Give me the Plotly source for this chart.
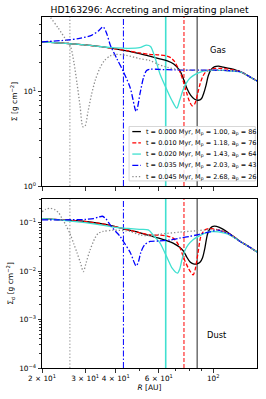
import plotly.graph_objects as go
import math

# ---------------- data ----------------
times = [0.000, 0.010, 0.020, 0.035, 0.045]
masses = [1.00, 1.18, 1.43, 2.03, 2.68]
a_p = [86, 76, 64, 43, 26]

# Gas surface density
r_gas_0 = [20, 25, 30, 35, 40, 45, 50, 55, 60, 65, 69, 73, 76, 78, 81, 84, 87, 89.5, 91.5, 93.5, 95.5, 98, 101, 105, 110, 118, 129, 140, 151]
s_gas_0 = [33, 31.8, 30.6, 29.3, 27.8, 26.3, 24.8, 23.3, 22, 20.8, 19.3, 16.5, 13, 10.8, 9, 8.2, 8.0, 8.3, 9.5, 11.5, 14.5, 16.8, 18, 18.3, 17.9, 17.2, 16, 14.3, 12.8]

r_gas_1 = [20, 25, 30, 35, 40, 45, 50, 55, 60, 64, 67, 69.5, 71.5, 73.5, 76, 78, 80, 82, 84, 86.5, 88.5, 90.5, 93, 97, 102, 108, 115, 129, 140, 151]
s_gas_1 = [33, 31.8, 30.6, 29.3, 27.8, 26.5, 25.2, 24.4, 24, 23.5, 22.5, 20.5, 18, 15.5, 12, 9.5, 7.8, 7.0, 7.3, 9.5, 12, 14.1, 15.8, 16.8, 17.3, 17.3, 17, 16, 14.3, 12.8]

r_gas_2 = [20, 25, 30, 35, 40, 45, 50, 53.5, 55.5, 58, 60.7, 64.5, 67.8, 71, 73, 75.8, 80.5, 90, 100, 110, 120, 129, 140, 151]
s_gas_2 = [33, 31.8, 30.6, 29.3, 28.5, 28.2, 28.6, 30.5, 29.5, 22, 15, 10.5, 8, 6.6, 8, 10.7, 13.7, 16, 16.5, 16.5, 16.2, 15.9, 14.3, 12.8]

r_gas_3 = [20, 25, 28.5, 32, 34, 35.5, 36.8, 38, 40.4, 43, 45.9, 48.5, 50.3, 52, 53.5, 55.3, 60, 70, 80, 90, 100, 110, 120, 129, 140, 151]
s_gas_3 = [33, 34.3, 35.8, 38.9, 43, 47.5, 40, 30.6, 22, 16, 10.7, 6.1, 9.5, 14, 16.5, 17, 16.9, 16.7, 16.6, 16.6, 16.6, 16.5, 16.3, 16, 14.3, 12.8]

r_gas_4 = [20, 21.6, 23.3, 25.2, 26.2, 27, 27.8, 28.6, 29.4, 30, 30.8, 31.8, 33, 34.5, 36, 38, 40, 44, 50, 55, 60, 65, 70, 80, 90, 100, 110, 120, 129, 140, 151]
s_gas_4 = [75, 60, 46, 34, 29, 20, 12, 7, 4.2, 4.3, 6, 9, 13, 17.5, 21, 23.5, 24.3, 23.8, 22, 21, 19, 17.8, 17, 16.6, 16.6, 16.6, 16.5, 16.3, 16, 14.3, 12.8]

# Dust surface density
r_dust_0 = [20, 25, 30, 36.8, 43, 50.3, 55.3, 60, 65, 68.6, 73, 76, 78, 80.5, 83, 86, 88.5, 90.5, 92.5, 94.8, 97.5, 101, 106, 115, 129, 140, 151]
s_dust_0 = [0.121, 0.113, 0.106, 0.091, 0.075, 0.062, 0.054, 0.048, 0.042, 0.038, 0.031, 0.025, 0.0195, 0.0155, 0.0142, 0.0142, 0.0155, 0.019, 0.03, 0.058, 0.078, 0.085, 0.08, 0.063, 0.041, 0.032, 0.025]

r_dust_1 = [20, 25, 30, 36.8, 43, 50.3, 55.3, 60, 65, 68.6, 71, 73.5, 75.8, 79.1, 81, 82.8, 84.5, 86.7, 89.4, 93, 97.3, 101, 106, 115, 129, 140, 151]
s_dust_1 = [0.121, 0.113, 0.106, 0.091, 0.075, 0.062, 0.056, 0.0555, 0.053, 0.048, 0.04, 0.029, 0.0188, 0.0116, 0.0095, 0.0084, 0.011, 0.0237, 0.0557, 0.072, 0.0766, 0.074, 0.07, 0.061, 0.041, 0.032, 0.025]

r_dust_2 = [20, 25, 30, 36.8, 40, 45, 50, 54.3, 57.9, 60.7, 63, 65.5, 68, 71.5, 73, 74.5, 76.5, 79, 83, 86.7, 92, 97.3, 105, 115, 129, 140, 151]
s_dust_2 = [0.121, 0.111, 0.1, 0.086, 0.08, 0.076, 0.073, 0.071, 0.05, 0.038, 0.026, 0.017, 0.0115, 0.0091, 0.011, 0.017, 0.026, 0.0347, 0.045, 0.0515, 0.06, 0.0652, 0.065, 0.058, 0.041, 0.032, 0.025]

r_dust_3 = [20, 25, 30, 32.5, 34, 35.3, 36.5, 37.9, 40, 41.7, 43, 45.9, 48.5, 49.6, 50.6, 52.5, 55.3, 60, 66.7, 73, 80, 87, 97, 104, 115, 129, 140, 151]
s_dust_3 = [0.115, 0.115, 0.117, 0.122, 0.13, 0.136, 0.12, 0.091, 0.066, 0.052, 0.041, 0.024, 0.0128, 0.016, 0.024, 0.035, 0.041, 0.042, 0.044, 0.048, 0.052, 0.057, 0.065, 0.07, 0.06, 0.041, 0.032, 0.025]

r_dust_4 = [20, 20.7, 21.6, 22.6, 23.4, 24.1, 25, 26, 27, 27.8, 28.7, 29.5, 30.3, 31.4, 32.9, 33.9, 35.5, 39.1, 45.9, 50.3, 55.3, 60.7, 73, 85, 93, 101, 110, 129, 140, 151]
s_dust_4 = [0.168, 0.19, 0.198, 0.185, 0.16, 0.125, 0.09, 0.06, 0.036, 0.024, 0.015, 0.0098, 0.015, 0.027, 0.048, 0.06, 0.066, 0.07, 0.066, 0.056, 0.054, 0.058, 0.064, 0.068, 0.071, 0.072, 0.067, 0.041, 0.032, 0.025]

x_tickvals = [20, 30, 40, 60, 100]
x_ticktext = ["2 × 10<sup>1</sup>", "3 × 10<sup>1</sup>", "4 × 10<sup>1</sup>", "6 × 10<sup>1</sup>", "10<sup>2</sup>"]
x_minor = [50, 70, 80, 90]

# ---------------- styles ----------------
colors = ["#000000", "#ff0000", "#40e0d0", "#0000ff", "#8c8c8c"]
dashes = ["solid", "4px,2px", "solid", "6px,2px,1.5px,2px", "1.3px,2px"]
vwidths = [1.0, 1.0, 1.6, 1.0, 1.0]
FONT = "DejaVu Sans"

gas_r = [r_gas_0, r_gas_1, r_gas_2, r_gas_3, r_gas_4]
gas_s = [s_gas_0, s_gas_1, s_gas_2, s_gas_3, s_gas_4]
dust_r = [r_dust_0, r_dust_1, r_dust_2, r_dust_3, r_dust_4]
dust_s = [s_dust_0, s_dust_1, s_dust_2, s_dust_3, s_dust_4]

fig = go.Figure()
for i in range(5):
    fig.add_trace(go.Scatter(x=gas_r[i], y=gas_s[i], mode="lines", xaxis="x", yaxis="y",
                             line=dict(color=colors[i], width=1.3, dash=dashes[i], shape="spline", smoothing=0.8),
                             showlegend=False, hoverinfo="skip"))
    fig.add_trace(go.Scatter(x=dust_r[i], y=dust_s[i], mode="lines", xaxis="x2", yaxis="y2",
                             line=dict(color=colors[i], width=1.3, dash=dashes[i], shape="spline", smoothing=0.8),
                             showlegend=False, hoverinfo="skip"))

shapes = []
# vertical planet-position lines in both panels
for i in range(5):
    for xr, yr in (("x", "y domain"), ("x2", "y2 domain")):
        shapes.append(dict(type="line", xref=xr, yref=yr, x0=a_p[i], x1=a_p[i], y0=0, y1=1,
                           line=dict(color=colors[i], width=vwidths[i], dash=dashes[i]),
                           opacity=0.85 if i == 0 else 1.0, layer="below"))

# manual legend (matplotlib-like compact box) in the top panel
annotations = []
lx0, lx1, ly0, ly1 = 0.405, 0.992, 0.03, 0.352
shapes.append(dict(type="rect", xref="x domain", yref="y domain", x0=lx0, x1=lx1, y0=ly0, y1=ly1,
                   line=dict(color="#cccccc", width=0.8), fillcolor="rgba(255,255,255,0.85)", layer="above"))
for i in range(5):
    yy = ly1 - 0.03 - i * 0.0665
    shapes.append(dict(type="line", xref="x domain", yref="y domain", x0=lx0 + 0.015, x1=lx0 + 0.055,
                       y0=yy, y1=yy, line=dict(color=colors[i], width=1.3, dash=dashes[i]), layer="above"))
    label = f"t = {times[i]:.3f} Myr, M<sub>p</sub> = {masses[i]:.2f}, a<sub>p</sub> = {a_p[i]}"
    annotations.append(dict(xref="x domain", yref="y domain", x=lx0 + 0.068, y=yy, text=label,
                            showarrow=False, xanchor="left", yanchor="middle",
                            font=dict(family=FONT, size=6.5, color="#000")))

annotations.append(dict(xref="x domain", yref="y domain", x=0.865, y=0.846, text="Gas", showarrow=False,
                        font=dict(family=FONT, size=8.3, color="#000")))
annotations.append(dict(xref="x2 domain", yref="y2 domain", x=0.87, y=0.156, text="Dust", showarrow=False,
                        font=dict(family=FONT, size=8.3, color="#000")))

xrange = [math.log10(20), math.log10(151)]

axis_common = dict(showline=True, linecolor="#000", linewidth=1, mirror=True, ticks="outside",
                   ticklen=3.5, tickwidth=0.8, tickcolor="#000", showgrid=False, zeroline=False,
                   tickfont=dict(family=FONT, size=7.3, color="#000"))

top_minor = [2, 3, 4, 5, 6, 7, 8, 9, 20, 30, 40, 50]
bot_minor = [m * 10 ** e for e in (-4, -3, -2, -1) for m in range(2, 10) if m * 10 ** e < 0.31]

fig.update_layout(
    width=266, height=399,
    margin=dict(l=42, r=9, t=17, b=31),
    paper_bgcolor="white", plot_bgcolor="white",
    title=dict(text="HD163296: Accreting and migrating planet", x=0.5, xref="paper", xanchor="center",
               y=1 - 10 / 399, yref="container", yanchor="middle",
               font=dict(family=FONT, size=9.2, color="#000")),
    xaxis=dict(type="log", range=xrange, domain=[0, 1], anchor="y", matches="x2",
               tickvals=x_tickvals, ticktext=x_ticktext, showticklabels=False,
               minor=dict(tickvals=x_minor, ticks="outside", ticklen=2, tickcolor="#000", tickwidth=0.8),
               **axis_common),
    yaxis=dict(type="log", range=[0, 1.78], domain=[0.5185, 1], anchor="x",
               tickvals=[1, 10], ticktext=["10<sup>0</sup>", "10<sup>1</sup>"],
               minor=dict(tickvals=top_minor, ticks="outside", ticklen=2, tickcolor="#000", tickwidth=0.8),
               title=dict(text="Σ [g cm<sup>−2</sup>]", font=dict(family=FONT, size=7.5, color="#000"), standoff=4),
               **axis_common),
    xaxis2=dict(type="log", range=xrange, domain=[0, 1], anchor="y2",
                tickvals=x_tickvals, ticktext=x_ticktext,
                minor=dict(tickvals=x_minor, ticks="outside", ticklen=2, tickcolor="#000", tickwidth=0.8),
                title=dict(text="<i>R</i> [AU]", font=dict(family=FONT, size=7.5, color="#000"), standoff=2),
                **axis_common),
    yaxis2=dict(type="log", range=[-4, -0.51], domain=[0, 0.4815], anchor="x2",
                tickvals=[1e-4, 1e-3, 1e-2, 1e-1],
                ticktext=["10<sup>−4</sup>", "10<sup>−3</sup>", "10<sup>−2</sup>", "10<sup>−1</sup>"],
                minor=dict(tickvals=bot_minor, ticks="outside", ticklen=2, tickcolor="#000", tickwidth=0.8),
                title=dict(text="Σ<sub>d</sub> [g cm<sup>−2</sup>]", font=dict(family=FONT, size=7.5, color="#000"), standoff=4),
                **axis_common),
    shapes=shapes,
    annotations=annotations,
)

fig.write_html("out.html",
               config={"displayModeBar": False, "staticPlot": True},
               post_script="document.body.style.margin='0';document.body.style.padding='0';"
                           "document.documentElement.style.overflow='hidden';")
